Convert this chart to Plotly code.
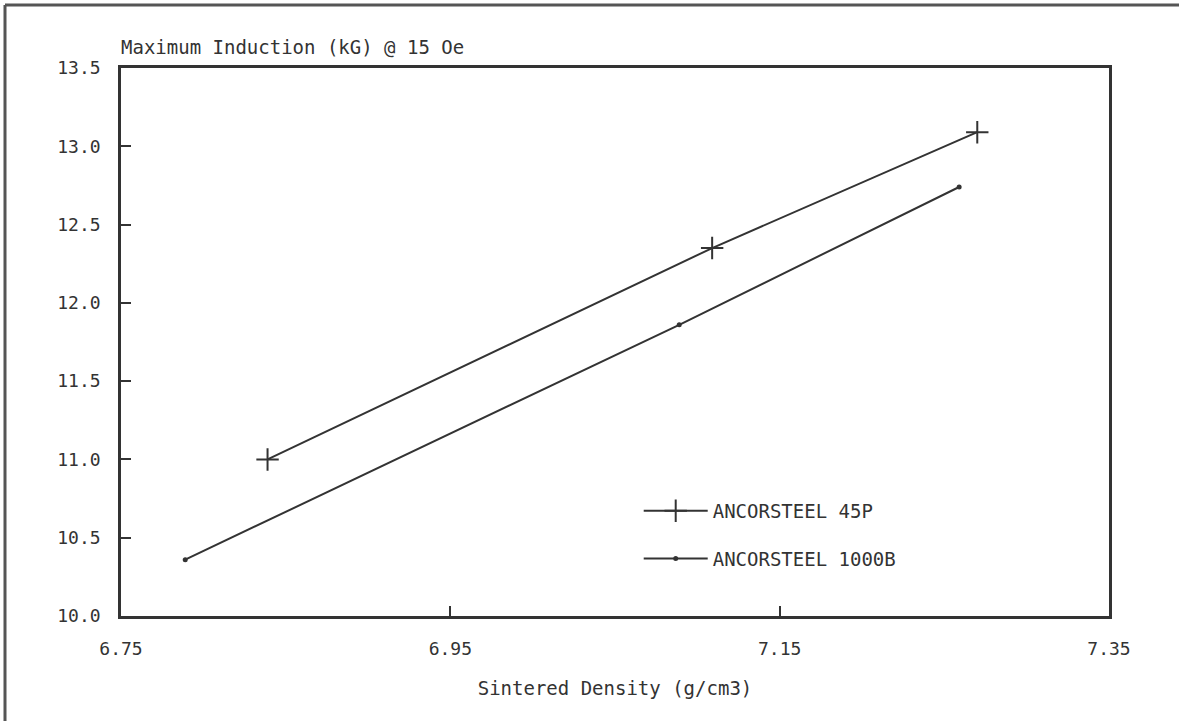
import plotly.graph_objects as go

# Data
density_45p = [6.839, 7.109, 7.270]
induction_45p = [11.00, 12.35, 13.09]
density_1000b = [6.789, 7.089, 7.259]
induction_1000b = [10.36, 11.86, 12.74]

x_ticks = [6.75, 6.95, 7.15, 7.35]
x_tick_labels = ["6.75", "6.95", "7.15", "7.35"]
y_ticks = [10.0, 10.5, 11.0, 11.5, 12.0, 12.5, 13.0, 13.5]

FONT = "DejaVu Sans Mono"
INK = "#333333"

fig = go.Figure()
fig.add_trace(go.Scatter(
    x=density_45p, y=induction_45p, name="ANCORSTEEL 45P",
    mode="lines+markers", legendgroup="a",
    line=dict(color=INK, width=2),
    marker=dict(symbol="cross-thin", size=16, line=dict(color=INK, width=2), color=INK),
))
fig.add_trace(go.Scatter(
    x=density_1000b, y=induction_1000b, name="ANCORSTEEL 1000B",
    mode="lines+markers", legendgroup="b",
    line=dict(color=INK, width=2),
    marker=dict(symbol="circle", size=5, color=INK),
))

fig.update_layout(
    width=1179, height=721,
    margin=dict(l=121, r=70, t=68, b=105),
    paper_bgcolor="white", plot_bgcolor="white",
    font=dict(family=FONT, size=18, color=INK),
    showlegend=True,
    legend=dict(
        x=0.524, y=0.148, xanchor="left", yanchor="middle",
        bgcolor="rgba(0,0,0,0)", itemwidth=64, tracegroupgap=20,
        font=dict(family=FONT, size=19, color=INK),
    ),
    title=dict(
        text="Maximum Induction (kG) @ 15 Oe",
        x=121 / 1179, xanchor="left", xref="container",
        y=1 - 47 / 721, yanchor="middle", yref="container",
        font=dict(family=FONT, size=19, color=INK),
    ),
)

fig.update_xaxes(
    range=[6.75, 7.35], tickvals=x_ticks, ticktext=x_tick_labels,
    ticks="inside", ticklen=10, tickwidth=1.5, tickcolor=INK,
    showgrid=False, zeroline=False,
    showline=True, linecolor=INK, linewidth=2.5, mirror=True,
    tickfont=dict(family=FONT, size=18, color=INK),
    ticklabelstandoff=15,
    title=dict(text="Sintered Density (g/cm3)", standoff=24,
               font=dict(family=FONT, size=19, color=INK)),
)
fig.update_yaxes(
    range=[10.0, 13.5], tickvals=y_ticks, tickformat=".1f",
    ticks="inside", ticklen=10, tickwidth=1.5, tickcolor=INK,
    showgrid=False, zeroline=False,
    showline=True, linecolor=INK, linewidth=2.5, mirror=True,
    tickfont=dict(family=FONT, size=18, color=INK),
    ticklabelstandoff=14,
)

# Outer frame of the scanned figure (left and top edges)
fig.add_shape(type="line", xref="paper", yref="paper",
              x0=-116 / 988, x1=-116 / 988, y0=-105 / 548, y1=(548 + 63) / 548,
              line=dict(color="#555555", width=3))
fig.add_shape(type="line", xref="paper", yref="paper",
              x0=-116 / 988, x1=(1179 - 121) / 988, y0=(548 + 63) / 548, y1=(548 + 63) / 548,
              line=dict(color="#555555", width=3))

fig.write_html("out.html")
